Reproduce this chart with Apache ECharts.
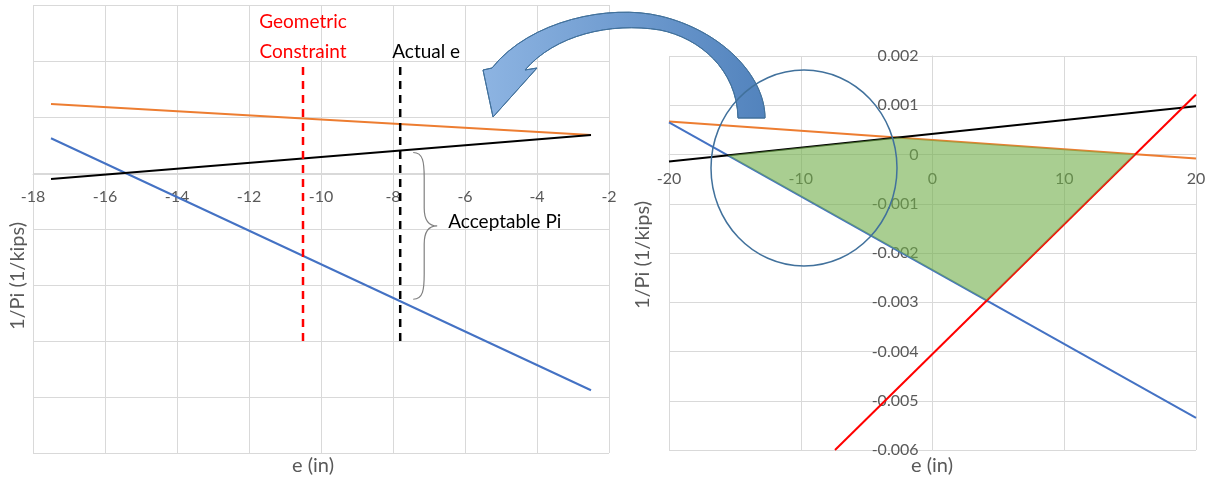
<!DOCTYPE html>
<html>
<head>
<meta charset="utf-8">
<script src="https://cdn.jsdelivr.net/npm/echarts@6/dist/echarts.min.js"></script>
<style>
  html, body { margin: 0; padding: 0; background: #fff; }
  #chart { width: 1211px; height: 482px; }
</style>
</head>
<body>
<div id="chart"></div>
<script>
// zoomed view (left panel)
const zoomE = [-17.5, -2.5]
const zoomBlue = [0.00031, -0.00194]
const zoomOrange = [0.000616, 0.00034]
const zoomBlack = [-0.000054, 0.00034]
const geoE = -10.5
const actualE = -7.8
const markerY = [-0.0015, 0.00096]
const zoomXTicks = [-18, -16, -14, -12, -10, -8, -6, -4, -2]
const zoomYTicks = [-0.0025, -0.002, -0.0015, -0.001, -0.0005, 0, 0.0005, 0.001, 0.0015]

// full view (right panel)
const fullE = [-20, 20]
const fullBlue = [0.00065, -0.00535]
const fullOrange = [0.00067, -0.00008]
const fullBlack = [-0.00014, 0.00098]
const redE = [-7.4, 20]
const redY = [-0.006, 0.00122]
const fullXTicks = [-20, -10, 0, 10, 20]
const fullYTicks = [-0.006, -0.005, -0.004, -0.003, -0.002, -0.001, 0, 0.001, 0.002]

const FONT = 'Lato, "Liberation Sans", sans-serif'
const GRID_COLOR = '#d9d9d9'
const LABEL_COLOR = '#595959'

function zip (xs, ys) {
  return xs.map((x, i) => [x, ys[i]])
}
function lineAt (xs, ys, x) {
  return ys[0] + (ys[1] - ys[0]) * (x - xs[0]) / (xs[1] - xs[0])
}
function cross (ax, ay, bx, by) {
  const ma = (ay[1] - ay[0]) / (ax[1] - ax[0])
  const ca = ay[0] - ma * ax[0]
  const mb = (by[1] - by[0]) / (bx[1] - bx[0])
  const cb = by[0] - mb * bx[0]
  const x = (cb - ca) / (ma - mb)
  return [x, ma * x + ca]
}

// acceptable region: below black/orange, above blue/red
const feasible = [
  cross(fullE, fullBlue, fullE, fullBlack),
  cross(fullE, fullBlack, fullE, fullOrange),
  cross(fullE, fullOrange, redE, redY),
  cross(redE, redY, fullE, fullBlue)
]

function valueAxis (ticks, extra) {
  return Object.assign({
    type: 'value',
    min: ticks[0],
    max: ticks[ticks.length - 1],
    interval: ticks[1] - ticks[0],
    axisTick: { show: false },
    axisLine: { show: true, onZero: false, lineStyle: { color: GRID_COLOR, width: 1 } },
    splitLine: { show: true, lineStyle: { color: GRID_COLOR, width: 1 } },
    axisLabel: { color: LABEL_COLOR, fontFamily: FONT, fontSize: 16 }
  }, extra)
}

function plain (name, data, color, xi, extra) {
  return Object.assign({
    name: name,
    type: 'line',
    xAxisIndex: xi,
    yAxisIndex: xi,
    data: data,
    showSymbol: false,
    silent: true,
    lineStyle: { color: color, width: 2 },
    z: 2
  }, extra)
}

// "}" brace between two pixel points
function bracePath (top, bot) {
  const bx = top[0] + 13
  const bt = top[1] + 2
  const bb = bot[1] - 2
  const bm = (bt + bb) / 2
  return 'M' + bx + ' ' + bt +
    ' C' + (bx + 10) + ' ' + bt + ' ' + (bx + 11) + ' ' + (bt + 10) + ' ' + (bx + 11) + ' ' + (bt + 25) +
    ' L' + (bx + 11) + ' ' + (bm - 18) +
    ' C' + (bx + 11) + ' ' + (bm - 5) + ' ' + (bx + 16) + ' ' + bm + ' ' + (bx + 24) + ' ' + bm +
    ' C' + (bx + 16) + ' ' + bm + ' ' + (bx + 11) + ' ' + (bm + 5) + ' ' + (bx + 11) + ' ' + (bm + 18) +
    ' L' + (bx + 11) + ' ' + (bb - 25) +
    ' C' + (bx + 11) + ' ' + (bb - 10) + ' ' + (bx + 10) + ' ' + bb + ' ' + bx + ' ' + bb
}

const arrowPath = 'M765 118 C765 75 720 30 660 16 C610 4 530 20 492 68 L483 70 L493 117 L537 68 L525 70 ' +
  'C555 35 610 22 660 30 C700 38 737 70 738 118 Z'

const chart = echarts.init(document.getElementById('chart'))
chart.setOption({
  animation: false,
  backgroundColor: '#fff',
  grid: [
    { left: 33, right: 602, top: 5, bottom: 29 },
    { left: 669, right: 15, top: 56, bottom: 32 }
  ],
  xAxis: [
    valueAxis(zoomXTicks, {
      gridIndex: 0,
      axisLabel: { color: LABEL_COLOR, fontFamily: FONT, fontSize: 16, margin: 15 }
    }),
    valueAxis(fullXTicks, {
      gridIndex: 1,
      axisLabel: { color: LABEL_COLOR, fontFamily: FONT, fontSize: 16, margin: 16 }
    })
  ],
  yAxis: [
    valueAxis(zoomYTicks, {
      gridIndex: 0,
      axisLine: { show: false },
      axisLabel: { show: false }
    }),
    valueAxis(fullYTicks, {
      gridIndex: 1,
      axisLabel: { color: LABEL_COLOR, fontFamily: FONT, fontSize: 16, margin: 14 }
    })
  ],
  series: [
    plain('orange', zip(zoomE, zoomOrange), '#ed7d31', 0),
    plain('blue', zip(zoomE, zoomBlue), '#4472c4', 0),
    plain('black', zip(zoomE, zoomBlack), '#000000', 0),
    plain('geometric', zip([geoE, geoE], markerY), '#ff0000', 0, {
      lineStyle: { color: '#ff0000', width: 2.5, type: [8, 6] }
    }),
    plain('actual', zip([actualE, actualE], markerY), '#000000', 0, {
      lineStyle: { color: '#000000', width: 2.5, type: [8, 6] }
    }),
    plain('orange', zip(fullE, fullOrange), '#ed7d31', 1),
    plain('blue', zip(fullE, fullBlue), '#4472c4', 1),
    plain('black', zip(fullE, fullBlack), '#000000', 1),
    plain('red', zip(redE, redY), '#ff0000', 1),
    {
      type: 'custom',
      xAxisIndex: 1,
      yAxisIndex: 1,
      silent: true,
      z: 3,
      data: [feasible[0]],
      renderItem: (params, api) => ({
        type: 'polygon',
        shape: { points: feasible.map(p => api.coord(p)) },
        style: { fill: 'rgba(112,173,71,0.6)' }
      })
    },
    {
      // brace marking the acceptable range at the actual e
      type: 'custom',
      xAxisIndex: 0,
      yAxisIndex: 0,
      silent: true,
      z: 5,
      data: [[actualE, 0]],
      renderItem: (params, api) => ({
        type: 'path',
        shape: {
          pathData: bracePath(
            api.coord([actualE, lineAt(zoomE, zoomBlack, actualE)]),
            api.coord([actualE, lineAt(zoomE, zoomBlue, actualE)])
          )
        },
        style: { fill: null, stroke: '#808080', lineWidth: 1.2 }
      })
    },
    {
      // curved call-out arrow and the circled area
      type: 'custom',
      coordinateSystem: 'none',
      silent: true,
      z: 20,
      data: [[0]],
      renderItem: () => ({
        type: 'group',
        children: [
          {
            type: 'path',
            shape: { pathData: arrowPath },
            style: {
              fill: new echarts.graphic.LinearGradient(0, 0, 1, 0, [
                { offset: 0, color: '#8db4e2' },
                { offset: 1, color: '#5283bd' }
              ]),
              stroke: '#41719c',
              lineWidth: 1
            }
          },
          {
            type: 'ellipse',
            shape: { cx: 804, cy: 168, rx: 93, ry: 98 },
            style: { fill: null, stroke: '#41719c', lineWidth: 1.5 }
          }
        ]
      })
    }
  ]
})

// move the x axes onto y = 0 and the right y axis onto x = 0
const c0 = { xAxisIndex: 0, yAxisIndex: 0 }
const c1 = { xAxisIndex: 1, yAxisIndex: 1 }
const zero0 = chart.convertToPixel(c0, [zoomXTicks[0], 0])
const base0 = chart.convertToPixel(c0, [zoomXTicks[0], zoomYTicks[0]])
const zero1 = chart.convertToPixel(c1, [0, 0])
const base1 = chart.convertToPixel(c1, [fullXTicks[0], fullYTicks[0]])

const geoTop = chart.convertToPixel(c0, [geoE, markerY[1]])
const actTop = chart.convertToPixel(c0, [actualE, markerY[1]])
const braceTop = chart.convertToPixel(c0, [actualE, lineAt(zoomE, zoomBlack, actualE)])
const braceBot = chart.convertToPixel(c0, [actualE, lineAt(zoomE, zoomBlue, actualE)])

chart.setOption({
  xAxis: [
    { offset: zero0[1] - base0[1] },
    { offset: zero1[1] - base1[1] }
  ],
  yAxis: [
    {},
    { offset: base1[0] - zero1[0] }
  ],
  graphic: [
    {
      type: 'text', silent: true, z: 10,
      x: geoTop[0], y: geoTop[1] + 2,
      style: {
        text: 'Geometric\nConstraint', fill: '#ff0000', font: '19px ' + FONT,
        align: 'center', verticalAlign: 'bottom', lineHeight: 30
      }
    },
    {
      type: 'text', silent: true, z: 10,
      x: actTop[0] - 8, y: actTop[1] - 13,
      style: { text: 'Actual e', fill: '#000', font: '19px ' + FONT, align: 'left', verticalAlign: 'middle' }
    },
    {
      type: 'text', silent: true, z: 10,
      x: braceTop[0] + 48, y: (braceTop[1] + braceBot[1]) / 2 - 3,
      style: { text: 'Acceptable Pi', fill: '#000', font: '19px ' + FONT, align: 'left', verticalAlign: 'middle' }
    },
    {
      type: 'text', silent: true, z: 10,
      x: 313, y: 466,
      style: { text: 'e (in)', fill: LABEL_COLOR, font: '20px ' + FONT, align: 'center', verticalAlign: 'middle' }
    },
    {
      type: 'text', silent: true, z: 10,
      x: 18, y: 276, rotation: Math.PI / 2,
      style: { text: '1/Pi (1/kips)', fill: LABEL_COLOR, font: '20px ' + FONT, align: 'center', verticalAlign: 'middle' }
    },
    {
      type: 'text', silent: true, z: 10,
      x: 932, y: 466,
      style: { text: 'e (in)', fill: LABEL_COLOR, font: '20px ' + FONT, align: 'center', verticalAlign: 'middle' }
    },
    {
      type: 'text', silent: true, z: 10,
      x: 643, y: 255, rotation: Math.PI / 2,
      style: { text: '1/Pi (1/kips)', fill: LABEL_COLOR, font: '20px ' + FONT, align: 'center', verticalAlign: 'middle' }
    }
  ]
})
</script>
</body>
</html>
